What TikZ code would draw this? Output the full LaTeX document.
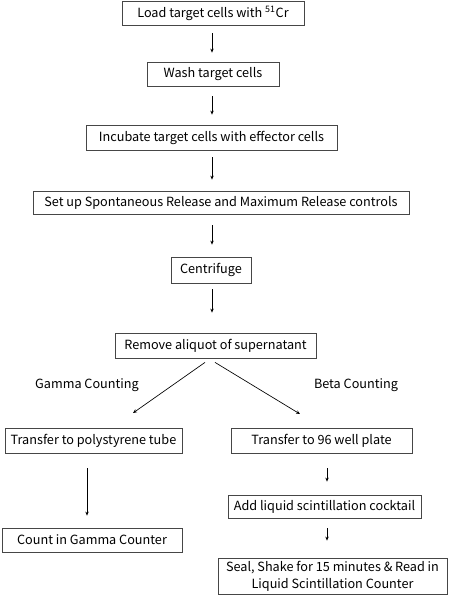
\documentclass[tikz,border=0pt]{standalone}
\usepackage{fontspec}
\setmainfont{Noto Sans CJK JP}
\usetikzlibrary{arrows.meta, calc, shadows}
\definecolor{boxborder}{RGB}{70,70,70}
\definecolor{shadowgray}{RGB}{170,170,170}
\tikzset{
    stepbox/.style={rectangle, draw=boxborder, line width=0.6pt, fill=white,
        inner sep=0pt, align=center, font=\fontsize{9.5}{12.5}\selectfont,
        drop shadow={shadow xshift=1pt, shadow yshift=-1pt, fill=shadowgray, opacity=1}},
    sz/.style 2 args={minimum width=#1*0.75pt, minimum height=#2*0.75pt},
    arrow/.style={-{Stealth[length=3pt, width=2.6pt]}, line width=0.5pt},
    branchlabel/.style={font=\fontsize{9.5}{12}\selectfont}
}

\begin{document}
\begin{tikzpicture}[x=0.75pt, y=-0.75pt]
    \useasboundingbox (0,0) rectangle (452,600);

    % Main column
    \node[stepbox, sz={182}{24}] (load) at (213,13) {Load target cells with \textsuperscript{51}Cr};
    \node[stepbox, sz={132}{24}] (wash) at (213,74) {Wash target cells};
    \node[stepbox, sz={251}{25}] (incub) at (211.5,137.5) {Incubate target cells with effector cells};
    \node[stepbox, sz={376}{23}] (setup) at (221,202.5) {Set up Spontaneous Release and Maximum Release controls};
    \node[stepbox, sz={80}{26}] (centri) at (211,270) {Centrifuge};
    \node[stepbox, sz={201}{25}] (aliquot) at (215.5,345.5) {Remove aliquot of supernatant};

    % Gamma branch
    \node[branchlabel] (gammalbl) at (87,385) {Gamma Counting};
    \node[stepbox, sz={177}{25}] (tube) at (93.5,440.5) {Transfer to polystyrene tube};
    \node[stepbox, sz={180}{24}] (gcount) at (92,540) {Count in Gamma Counter};

    % Beta branch
    \node[branchlabel] (betalbl) at (356,385) {Beta Counting};
    \node[stepbox, sz={181}{25}] (plate) at (321.5,440.5) {Transfer to 96 well plate};
    \node[stepbox, sz={193}{23}] (cocktail) at (324.5,506.5) {Add liquid scintillation cocktail};
    \node[stepbox, sz={229}{36}] (seal) at (332.5,576) {Seal, Shake for 15 minutes \& Read in\\Liquid Scintillation Counter};

    \coordinate (gtip) at (133,413);
    \coordinate (btip) at (300,414);

    \draw[arrow] ($(load.south)+(-1,8)$) -- ($(wash.north)+(-1,-9)$);
    \draw[arrow] ($(wash.south)+(-1,10)$) -- ($(incub.north)+(0.5,-10)$);
    \draw[arrow] ($(incub.south)+(0.5,7)$) -- ($(setup.north)+(-9,-11)$);
    \draw[arrow] ($(setup.south)+(-9,11)$) -- ($(centri.north)+(1,-12)$);
    \draw[arrow] ($(centri.south)+(1,6)$) -- ($(aliquot.north)+(-3.5,-20)$);
    \draw[arrow] ($(aliquot.south)+(-10.5,4)$) -- (gtip);
    \draw[arrow] ($(aliquot.south)+(-0.5,4)$) -- (btip);
    \draw[arrow] ($(tube.south)+(-6.5,15)$) -- ($(gcount.north)+(-5,-12)$);
    \draw[arrow] ($(plate.south)+(5.5,15)$) -- ($(cocktail.north)+(2.5,-13)$);
    \draw[arrow] ($(cocktail.south)+(2.5,10)$) -- ($(seal.north)+(-5.5,-17)$);

\end{tikzpicture}
\end{document}
